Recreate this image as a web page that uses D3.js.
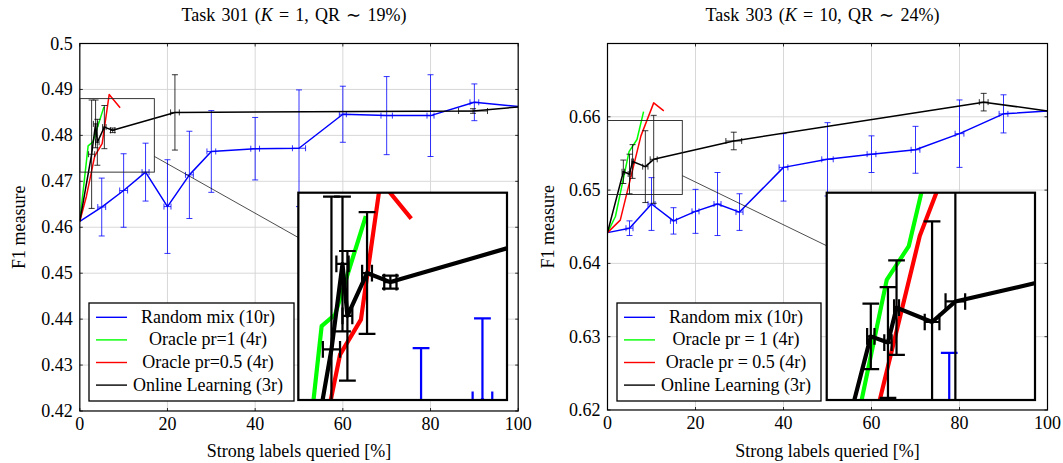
<!DOCTYPE html>
<html lang="en">
<head>
<meta charset="UTF-8">
<title>F1 measure vs strong labels queried</title>
<script src="https://d3js.org/d3.v7.min.js"></script>
<style>
  body { margin: 0; background: #fff; }
  svg text { font-family: "Liberation Serif", "Times New Roman", serif; font-size: 18px; fill: #000; }
</style>
</head>
<body>
<svg id="chart" width="1063" height="463"></svg>
<script>
// tick values
const xTicks = [0, 20, 40, 60, 80, 100];
const t301YTicks = [0.42, 0.43, 0.44, 0.45, 0.46, 0.47, 0.48, 0.49, 0.5];
const t303YTicks = [0.62, 0.63, 0.64, 0.65, 0.66];

const legend301 = ["Random mix (10r)", "Oracle pr=1 (4r)", "Oracle pr=0.5 (4r)", "Online Learning (3r)"];
const legend303 = ["Random mix (10r)", "Oracle pr = 1 (4r)", "Oracle pr = 0.5 (4r)", "Online Learning (3r)"];

// points as [x, y, xerr, yerr]
const t301Random = [
  [0, 0.4613, 0, 0], [5, 0.4644, 0.9, 0.0063], [10, 0.4680, 0.9, 0.0080], [15, 0.4720, 0.8, 0.0063],
  [20, 0.4645, 0.8, 0.0102], [25, 0.4714, 0.9, 0.0095], [30, 0.4765, 1.0, 0.0089], [40, 0.4771, 1.0, 0.0068],
  [50, 0.4772, 1.5, 0.0127], [60, 0.4846, 0.8, 0.0061], [70, 0.4843, 1.3, 0.0085], [80, 0.4843, 0.8, 0.0089],
  [90, 0.4872, 1.0, 0.0040], [100, 0.4863, 0, 0]
];
const t301Oracle1 = [[0, 0.4613], [1.9, 0.4777], [3, 0.4786], [5.5, 0.4862]];
const t301Oracle05 = [[0, 0.4613], [1.5, 0.4667], [3.4, 0.4755], [5.1, 0.4782], [6.7, 0.4889], [9.2, 0.4860]];
const t301Online = [
  [0, 0.4613, 0, 0], [2.7, 0.4759, 0.7, 0.0118], [3.6, 0.4825, 0.5, 0.0052], [4.0, 0.4785, 0.4, 0.0050],
  [5.6, 0.4818, 0.4, 0.0047], [7.5, 0.4811, 0.5, 0.0005], [21.7, 0.4850, 1.0, 0.0082],
  [89.7, 0.4853, 3.3, 0.0005], [100, 0.4862, 0, 0]
];

const t303Random = [
  [0, 0.6442, 0, 0], [5, 0.6448, 0.8, 0.0010], [10, 0.6481, 0.8, 0.0036], [15, 0.6458, 0.7, 0.0018],
  [20, 0.6471, 0.8, 0.0030], [25, 0.6481, 0.8, 0.0043], [30, 0.6470, 0.8, 0.0025], [40, 0.6531, 1.0, 0.0046],
  [50, 0.6542, 1.3, 0.0050], [60, 0.6549, 1.0, 0.0025], [70, 0.6555, 1.0, 0.0032], [80, 0.6577, 1.0, 0.0046],
  [90, 0.6604, 1.0, 0.0026], [100, 0.6608, 0, 0]
];
const t303Oracle1 = [[0, 0.6442], [1.8, 0.6464], [4.9, 0.65525], [6.7, 0.6569], [8.2, 0.6607]];
const t303Oracle05 = [[0, 0.6442], [2.9, 0.6459], [7.6, 0.6574], [10.5, 0.6619], [12.8, 0.6608]];
const t303Online = [
  [0, 0.6442, 0, 0], [3.6, 0.6525, 0.3, 0.0016], [5.0, 0.6522, 0.3, 0.0027], [5.7, 0.6539, 0.2, 0.0023],
  [8.6, 0.6532, 0.6, 0.0049], [10.5, 0.6542, 0.8, 0.0060], [28.7, 0.6567, 1.8, 0.0012],
  [85.5, 0.6620, 1.0, 0.0012], [100, 0.6608, 0, 0]
];

const seriesStyle = [
  { key: "random", color: "#0000ff", width: 1.5 },
  { key: "oracle1", color: "#00ff00", width: 1.5 },
  { key: "oracle05", color: "#ff0000", width: 1.5 },
  { key: "online", color: "#000000", width: 1.5 }
];

const panels = [
  {
    title: ["Task 301 (", "K", " = 1, QR \u223C 19%)"],
    xRange: [79.8, 518.2], yDomain: [0.42, 0.5], yRange: [411, 43.5], yTicks: t301YTicks,
    series: { random: t301Random, oracle1: t301Oracle1, oracle05: t301Oracle05, online: t301Online },
    spyX: [0, 17], spyY: [0.472, 0.488], inset: { x: 298.3, y: 192.7, w: 208.7, h: 207.3 },
    legend: { x: 89, y: 303, w: 205, h: 98, labels: legend301 }, yLabelX: 25
  },
  {
    title: ["Task 303 (", "K", " = 10, QR \u223C 24%)"],
    xRange: [607.5, 1047.5], yDomain: [0.62, 0.67], yRange: [410, 43.5], yTicks: t303YTicks,
    series: { random: t303Random, oracle1: t303Oracle1, oracle05: t303Oracle05, online: t303Online },
    spyX: [0, 17], spyY: [0.6494, 0.6595], inset: { x: 826.7, y: 192.7, w: 208.3, h: 207.3 },
    legend: { x: 617, y: 303, w: 204, h: 98, labels: legend303 }, yLabelX: 554
  }
];

const svg = d3.select("#chart");
const defs = svg.append("defs");

function drawGrid(g, x, y, yTicks, k) {
  const [yb, yt] = y.range(), [xl, xr] = x.range();
  g.append("g").selectAll("line").data(xTicks).join("line")
    .attr("x1", d => x(d)).attr("x2", d => x(d)).attr("y1", yb).attr("y2", yt)
    .attr("stroke", "#d4d4d4").attr("stroke-width", 0.9 * k);
  g.append("g").selectAll("line").data(yTicks).join("line")
    .attr("y1", d => y(d)).attr("y2", d => y(d)).attr("x1", xl).attr("x2", xr)
    .attr("stroke", "#d4d4d4").attr("stroke-width", 0.9 * k);
}

function drawMarks(g, x, y, series, k) {
  const cap = 3 * k;
  seriesStyle.forEach(s => {
    const pts = series[s.key];
    const eb = g.append("g").attr("stroke", s.color).attr("stroke-width", 0.8 * k).attr("fill", "none");
    pts.forEach(([px, py, ex, ey]) => {
      if (ey > 0) {
        const cx = x(px), ylo = y(py - ey), yhi = y(py + ey);
        eb.append("line").attr("x1", cx).attr("x2", cx).attr("y1", ylo).attr("y2", yhi);
        eb.append("line").attr("x1", cx - cap).attr("x2", cx + cap).attr("y1", ylo).attr("y2", ylo);
        eb.append("line").attr("x1", cx - cap).attr("x2", cx + cap).attr("y1", yhi).attr("y2", yhi);
      }
      if (ex > 0) {
        const cy = y(py), xlo = x(px - ex), xhi = x(px + ex);
        eb.append("line").attr("x1", xlo).attr("x2", xhi).attr("y1", cy).attr("y2", cy);
        eb.append("line").attr("x1", xlo).attr("x2", xlo).attr("y1", cy - cap).attr("y2", cy + cap);
        eb.append("line").attr("x1", xhi).attr("x2", xhi).attr("y1", cy - cap).attr("y2", cy + cap);
      }
    });
    g.append("path").datum(pts)
      .attr("d", d3.line().x(d => x(d[0])).y(d => y(d[1])))
      .attr("fill", "none").attr("stroke", s.color)
      .attr("stroke-width", s.width * k).attr("stroke-linejoin", "round");
  });
}

panels.forEach((p, pi) => {
  const x = d3.scaleLinear().domain([0, 100]).range(p.xRange);
  const y = d3.scaleLinear().domain(p.yDomain).range(p.yRange);
  const [x0, x1] = p.xRange, [yb, yt] = p.yRange;
  const g = svg.append("g");

  defs.append("clipPath").attr("id", "plot" + pi).append("rect")
    .attr("x", x0).attr("y", yt).attr("width", x1 - x0).attr("height", yb - yt);

  const plot = g.append("g").attr("clip-path", `url(#plot${pi})`);
  drawGrid(plot, x, y, p.yTicks, 1);
  drawMarks(plot, x, y, p.series, 1);

  // axis frame and inner ticks
  g.append("rect").attr("x", x0).attr("y", yt).attr("width", x1 - x0).attr("height", yb - yt)
    .attr("fill", "none").attr("stroke", "#000").attr("stroke-width", 1.2);
  const ticks = g.append("g").attr("stroke", "#000").attr("stroke-width", 0.8);
  xTicks.forEach(t => {
    ticks.append("line").attr("x1", x(t)).attr("x2", x(t)).attr("y1", yb).attr("y2", yb - 3);
    ticks.append("line").attr("x1", x(t)).attr("x2", x(t)).attr("y1", yt).attr("y2", yt + 3);
  });
  p.yTicks.forEach(t => {
    ticks.append("line").attr("y1", y(t)).attr("y2", y(t)).attr("x1", x0).attr("x2", x0 + 3);
    ticks.append("line").attr("y1", y(t)).attr("y2", y(t)).attr("x1", x1).attr("x2", x1 - 3);
  });

  // tick labels
  g.append("g").selectAll("text").data(xTicks).join("text")
    .attr("x", d => x(d)).attr("y", yb + 19).attr("text-anchor", "middle").text(d => d);
  g.append("g").selectAll("text").data(p.yTicks).join("text")
    .attr("x", x0 - 7).attr("y", d => y(d) + 6).attr("text-anchor", "end").text(d => d3.format("")(d));

  // titles
  const cx = (x0 + x1) / 2;
  const title = g.append("text").attr("x", cx - 5).attr("y", 21).attr("text-anchor", "middle")
    .attr("word-spacing", "1.7px");
  title.append("tspan").text(p.title[0]);
  title.append("tspan").attr("font-style", "italic").text(p.title[1]);
  title.append("tspan").text(p.title[2]);
  g.append("text").attr("x", cx).attr("y", 457).attr("text-anchor", "middle").text("Strong labels queried [%]");
  g.append("text").attr("transform", `translate(${p.yLabelX},${(yb + yt) / 2}) rotate(-90)`)
    .attr("text-anchor", "middle").text("F1 measure");

  // spy box, connector and magnified inset
  const bx0 = x(p.spyX[0]), bx1 = x(p.spyX[1]), by0 = y(p.spyY[1]), by1 = y(p.spyY[0]);
  const ins = p.inset;
  const bc = [(bx0 + bx1) / 2, (by0 + by1) / 2], ic = [ins.x + ins.w / 2, ins.y + ins.h / 2];
  const dx = ic[0] - bc[0], dy = ic[1] - bc[1];
  const tb = Math.min((bx1 - bx0) / 2 / Math.abs(dx), (by1 - by0) / 2 / Math.abs(dy));
  const ti = Math.min(ins.w / 2 / Math.abs(dx), ins.h / 2 / Math.abs(dy));
  g.append("line")
    .attr("x1", bc[0] + tb * dx).attr("y1", bc[1] + tb * dy)
    .attr("x2", ic[0] - ti * dx).attr("y2", ic[1] - ti * dy)
    .attr("stroke", "#000").attr("stroke-width", 0.7);
  g.append("rect").attr("x", bx0).attr("y", by0).attr("width", bx1 - bx0).attr("height", by1 - by0)
    .attr("fill", "none").attr("stroke", "#222").attr("stroke-width", 0.9);

  defs.append("clipPath").attr("id", "inset" + pi).append("rect")
    .attr("x", ins.x).attr("y", ins.y).attr("width", ins.w).attr("height", ins.h);
  const xi = d3.scaleLinear().domain(p.spyX).range([ins.x, ins.x + ins.w]);
  const yi = d3.scaleLinear().domain(p.spyY).range([ins.y + ins.h, ins.y]);
  const k = ins.w / (bx1 - bx0);
  const inset = g.append("g").attr("clip-path", `url(#inset${pi})`);
  inset.append("rect").attr("x", ins.x).attr("y", ins.y).attr("width", ins.w).attr("height", ins.h).attr("fill", "#fff");
  drawGrid(inset, xi.copy().range([xi(0), xi(100)]), yi.copy().range([yi(p.yDomain[0]), yi(p.yDomain[1])]), p.yTicks, k);
  drawMarks(inset, xi, yi, p.series, k);
  g.append("rect").attr("x", ins.x).attr("y", ins.y).attr("width", ins.w).attr("height", ins.h)
    .attr("fill", "none").attr("stroke", "#000").attr("stroke-width", 2.2);

  // legend
  const L = p.legend;
  const lg = g.append("g");
  lg.append("rect").attr("x", L.x).attr("y", L.y).attr("width", L.w).attr("height", L.h)
    .attr("fill", "#fff").attr("stroke", "#000").attr("stroke-width", 1.3);
  L.labels.forEach((lab, i) => {
    const ry = L.y + 14.3 + i * 22.6;
    lg.append("line").attr("x1", L.x + 7).attr("x2", L.x + 38).attr("y1", ry).attr("y2", ry)
      .attr("stroke", seriesStyle[i].color).attr("stroke-width", 1.4);
    lg.append("text").attr("x", L.x + 119).attr("y", ry + 5.5).attr("text-anchor", "middle").text(lab);
  });
});
</script>
</body>
</html>
